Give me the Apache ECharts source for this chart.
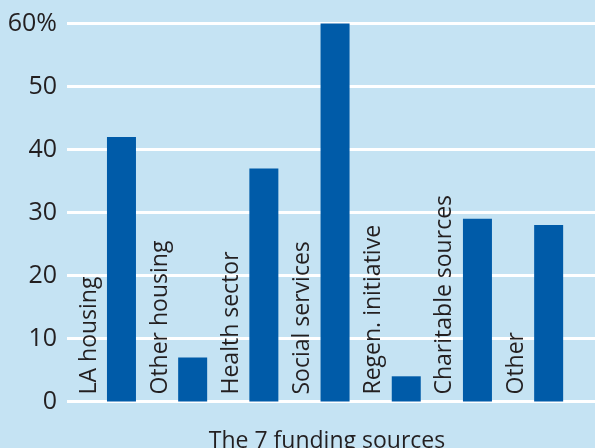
<!DOCTYPE html>
<html><head><meta charset="utf-8">
<script src="https://cdn.jsdelivr.net/npm/echarts@6/dist/echarts.min.js"></script>
<style>html,body{margin:0;padding:0;background:#c5e3f3;}#c{width:595px;height:448px;}</style>
</head><body><div id="c"></div>
<script>
var categories = ['LA housing','Other housing','Health sector','Social services','Regen. initiative','Charitable sources','Other'];
var values = [42, 7, 37, 60, 4, 29, 28];
var yTicks = [0, 10, 20, 30, 40, 50, 60];
var axisTitle = 'The 7 funding sources';

var chart = echarts.init(document.getElementById('c'));
var font = 'Open Sans';
chart.setOption({
  backgroundColor: '#c5e3f3',
  animation: false,
  grid: {left: 67, right: 0, top: 23.5, bottom: 46.5, containLabel: false, outerBoundsMode: 'none'},
  xAxis: {
    type: 'value', min: -0.765, max: 6.651,
    axisLine: {show: false}, axisTick: {show: false}, axisLabel: {show: false}, splitLine: {show: false},
    name: axisTitle, nameLocation: 'middle', nameGap: 28,
    nameTextStyle: {fontFamily: font, fontSize: 23, color: '#231f20', padding: [0, 8, 0, 0]}
  },
  yAxis: {
    type: 'value', min: 0, max: 60, interval: 10,
    axisLine: {show: false}, axisTick: {show: false},
    axisLabel: {margin: 10, fontFamily: font, fontSize: 25, color: '#231f20',
      formatter: function (v) { return v === 60 ? '60%' : String(v); }},
    splitLine: {lineStyle: {color: '#ffffff', width: 3}}
  },
  series: [{
    type: 'bar',
    barWidth: 29,
    itemStyle: {color: '#005ba8'},
    data: values.map(function (v, i) { return [i, v]; }),
    label: {
      show: true,
      position: [-18, '100%'],
      rotate: 90,
      align: 'left',
      verticalAlign: 'middle',
      padding: [0, 0, 0, 7],
      fontFamily: font, fontSize: 23, color: '#231f20',
      formatter: function (p) { return categories[p.dataIndex]; }
    }
  }]
});
</script></body></html>
